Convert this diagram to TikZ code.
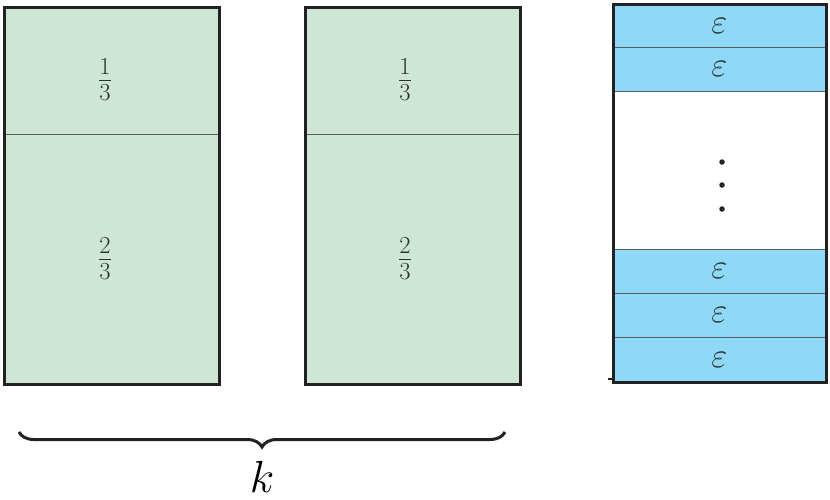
\RequirePackage{fix-cm}
\documentclass[tikz,border=0pt]{standalone}
\usetikzlibrary{decorations.pathreplacing}
\definecolor{boxgreen}{RGB}{205,230,214}
\definecolor{epsblue}{RGB}{142,217,247}
\definecolor{frame}{RGB}{34,34,34}
\definecolor{divline}{RGB}{85,95,95}
\definecolor{txt}{RGB}{45,45,45}
\begin{document}
\begin{tikzpicture}[x=1pt,y=-1pt,
  outer/.style={draw=frame,line width=3pt},
  part/.style={draw=divline,line width=0.9pt},
  lab/.style={text=txt,font=\fontsize{35}{40}\selectfont},
  dotmark/.style={circle,fill=frame,inner sep=0pt,minimum size=5.5pt}]
\useasboundingbox (0,0) rectangle (830,499);
% left column 1
\fill[boxgreen] (4,7) rectangle (219,384);
\draw[part] (4,134) -- (219,134);
\draw[outer] (4,7) rectangle (219,384);
\node[lab] (a1) at (105,80) {$\frac{1}{3}$};
\node[lab] (a2) at (105,259) {$\frac{2}{3}$};
% column 2
\fill[boxgreen] (305,7) rectangle (520,384);
\draw[part] (305,134) -- (520,134);
\draw[outer] (305,7) rectangle (520,384);
\node[lab] (b1) at (405,80) {$\frac{1}{3}$};
\node[lab] (b2) at (405,259) {$\frac{2}{3}$};
% right column
\foreach \ya/\yb/\n in {4/47/e1,47/91/e2,249/293/e3,293/337/e4,337/382/e5}{
  \fill[epsblue] (613,\ya) rectangle (826,\yb);
  \draw[part] (613,\ya) rectangle (826,\yb);
  \node[lab] (\n) at (719.5,{(\ya+\yb)/2}) {$\varepsilon$};
}
\draw[outer] (613,4) rectangle (826,382);
\draw[frame,line width=2pt] (608,379) -- (613,379);
\node[dotmark] (d1) at (722,162) {};
\node[dotmark] (d2) at (722,185) {};
\node[dotmark] (d3) at (722,209) {};
% brace
\coordinate (bl) at (19,432);
\coordinate (br) at (505,432);
\draw[frame,line width=3pt,decorate,decoration={brace,amplitude=15pt,aspect=0.5}] (br) -- (bl);
\node[text=black,inner sep=0pt,font=\fontsize{45}{50}\selectfont] (k) at (262,477) {$k$};
\end{tikzpicture}
\end{document}
